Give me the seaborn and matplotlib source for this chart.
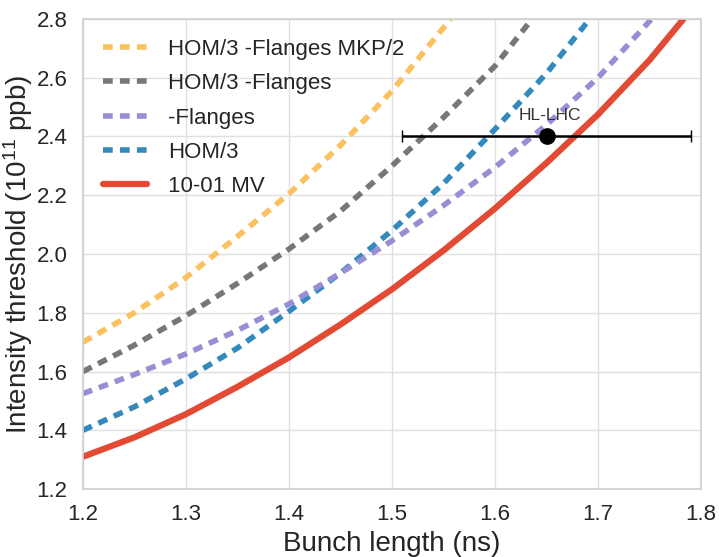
import numpy as np
import pandas as pd
import matplotlib
matplotlib.use("Agg")
import matplotlib.pyplot as plt
import seaborn as sns

# Bunch length (ns) vs intensity threshold (1e11 ppb)
x_mv = [1.20, 1.25, 1.30, 1.35, 1.40, 1.45, 1.50, 1.55, 1.60, 1.65, 1.70, 1.75, 1.783]
y_mv = [1.31, 1.376, 1.455, 1.548, 1.648, 1.76, 1.88, 2.012, 2.155, 2.31, 2.475, 2.66, 2.80]

x_hom = [1.20, 1.25, 1.30, 1.35, 1.40, 1.45, 1.50, 1.55, 1.60, 1.65, 1.692]
y_hom = [1.40, 1.48, 1.575, 1.68, 1.805, 1.935, 2.08, 2.24, 2.425, 2.615, 2.80]

x_fl = [1.20, 1.25, 1.30, 1.35, 1.40, 1.45, 1.50, 1.55, 1.60, 1.65, 1.70, 1.752]
y_fl = [1.525, 1.59, 1.66, 1.74, 1.83, 1.935, 2.045, 2.165, 2.295, 2.44, 2.60, 2.80]

x_homfl = [1.20, 1.25, 1.30, 1.35, 1.40, 1.45, 1.50, 1.55, 1.60, 1.636]
y_homfl = [1.60, 1.69, 1.79, 1.90, 2.017, 2.146, 2.30, 2.465, 2.64, 2.80]

x_mkp = [1.20, 1.25, 1.30, 1.35, 1.40, 1.45, 1.50, 1.55, 1.557]
y_mkp = [1.70, 1.80, 1.92, 2.06, 2.205, 2.37, 2.555, 2.77, 2.80]

# HL-LHC operating point
hl_x = 1.65
hl_y = 2.40
hl_xerr = 0.14

sns.set_theme(style="whitegrid", rc={"grid.color": ".88", "axes.edgecolor": ".82"})
plt.rcParams['font.family'] = ['Liberation Sans', 'DejaVu Sans']
plt.rcParams['mathtext.fontset'] = 'custom'
plt.rcParams['mathtext.rm'] = 'Liberation Sans'
plt.rcParams['mathtext.it'] = 'Liberation Sans:italic'

fig = plt.figure(figsize=(7.19, 5.57), dpi=100)
ax = fig.add_subplot(111)
fig.subplots_adjust(left=0.1154, right=0.975, top=0.966, bottom=0.122)

dash = (1.75, 1.3)
series = [
    ("10-01 MV", x_mv, y_mv, "#E24A33", None, 4.5),
    ("HOM/3", x_hom, y_hom, "#348ABD", dash, 4),
    ("-Flanges", x_fl, y_fl, "#988ED5", dash, 4),
    ("HOM/3 -Flanges", x_homfl, y_homfl, "#777777", dash, 4),
    ("HOM/3 -Flanges MKP/2", x_mkp, y_mkp, "#FBC15E", dash, 4),
]
for name, xs, ys, col, ds, lw in series:
    sns.lineplot(x=xs, y=ys, ax=ax, color=col, lw=lw, label=name)
    if ds is not None:
        ax.lines[-1].set_dashes(ds)

ax.errorbar(hl_x, hl_y, xerr=hl_xerr, fmt='o', color='black', ms=11,
            elinewidth=1.8, capsize=4, capthick=1)
ax.text(hl_x + 0.003, hl_y + 0.045, "HL-LHC", ha='center', va='bottom', fontsize=12.5,
        color='#333333')

ax.set_xlim(1.2, 1.8)
ax.set_ylim(1.2, 2.8)
ax.set_xticks(np.arange(1.2, 1.81, 0.1))
ax.set_yticks(np.arange(1.2, 2.81, 0.2))
ax.set_xticklabels(["%.1f" % v for v in np.arange(1.2, 1.81, 0.1)])
ax.set_yticklabels(["%.1f" % v for v in np.arange(1.2, 2.81, 0.2)])
ax.tick_params(labelsize=16, pad=5)
ax.set_xlabel("Bunch length (ns)", fontsize=20)
ax.set_ylabel("Intensity threshold ($10^{11}$ ppb)", fontsize=20, labelpad=1)

names = [s[0] for s in series]
handles, labels = ax.get_legend_handles_labels()
handles = [h for h, l in zip(handles, labels) if l in names]
labels = [l for l in labels if l in names]
ax.legend(handles[::-1], labels[::-1], loc='upper left', fontsize=16,
          handlelength=1.98, handletextpad=0.95, labelspacing=0.6, frameon=False)

plt.savefig("out.png", dpi=100)
